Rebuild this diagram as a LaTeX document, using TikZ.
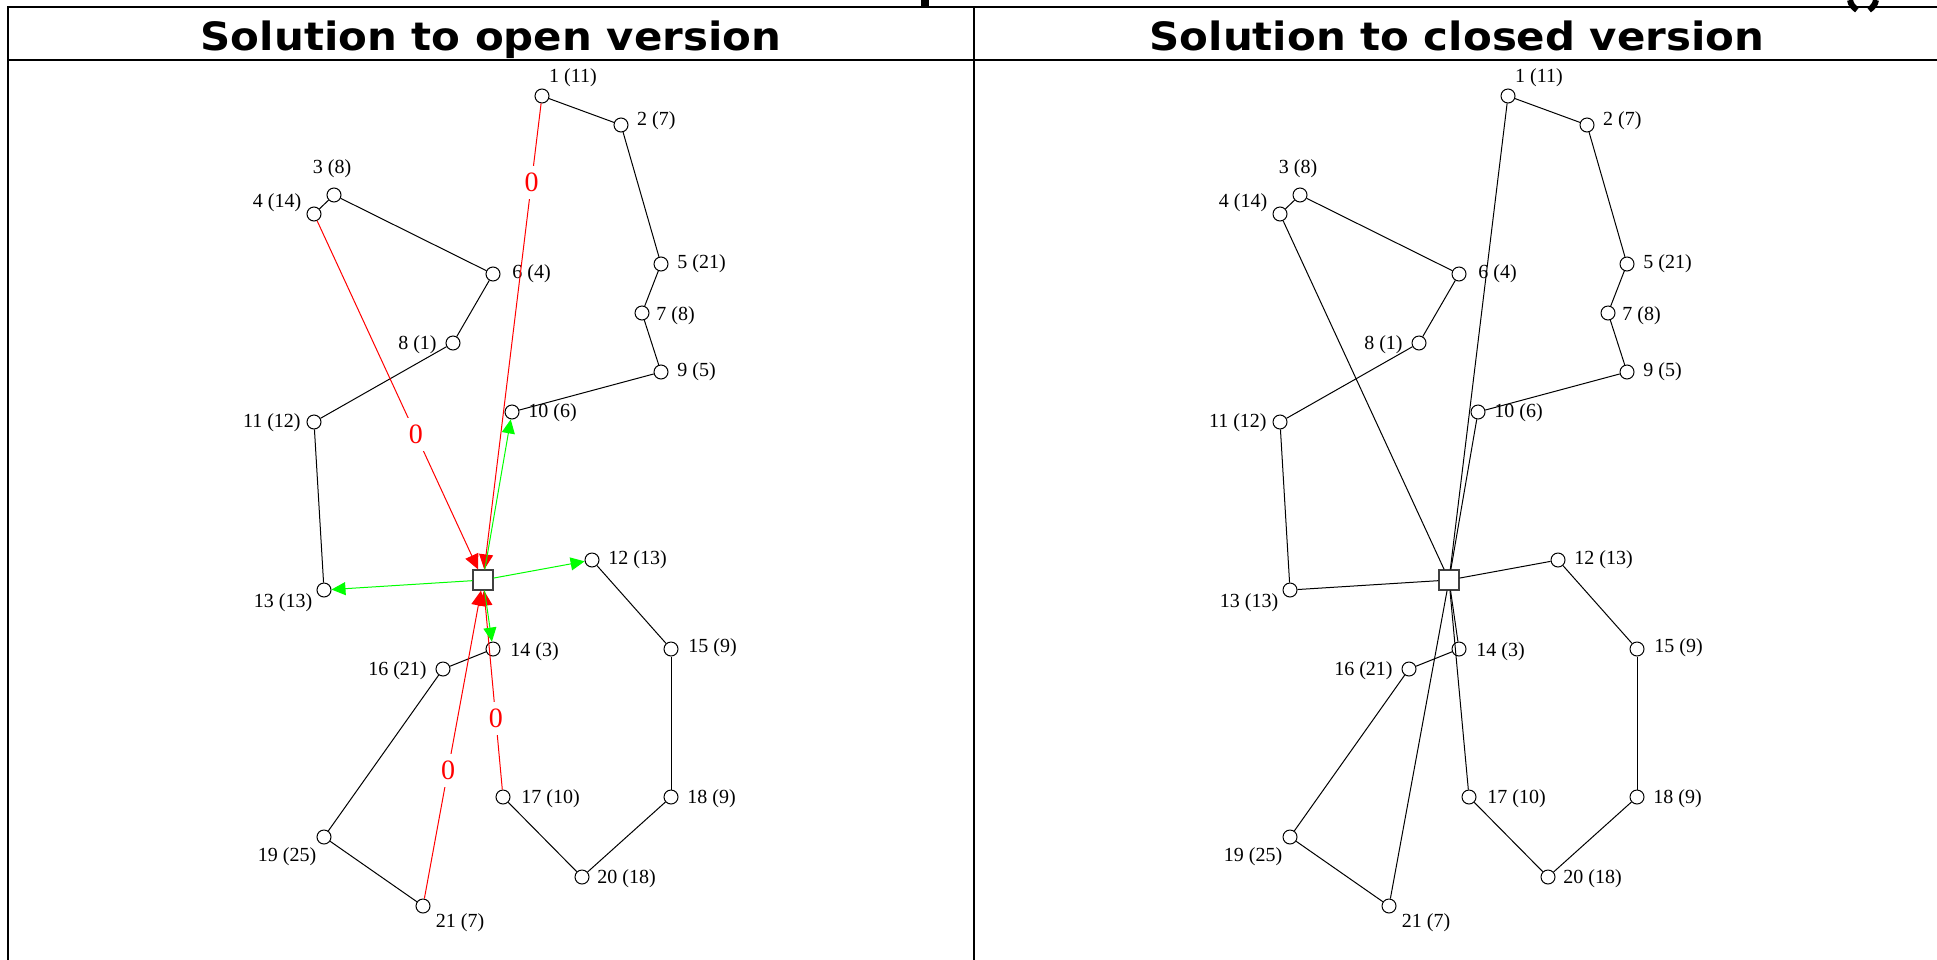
\documentclass[tikz,border=0pt]{standalone}
\usepackage{fontspec}
\setmainfont{Liberation Serif}
\newfontfamily\titlefont{DejaVu Sans}
\usetikzlibrary{arrows.meta}
\definecolor{pathred}{RGB}{255,0,0}
\definecolor{pathgreen}{RGB}{0,255,0}
\tikzset{
  cust/.style={circle, draw=black, fill=white, minimum size=7pt, inner sep=0pt, line width=0.5pt},
  depot/.style={rectangle, draw=black!75, fill=white, minimum size=10pt, inner sep=0pt, line width=0.6pt},
  lbl/.style={inner sep=0pt, font=\fontsize{10}{12}\selectfont},
  edge/.style={draw=black, line width=0.5pt},
  inarc/.style={draw=pathred, line width=0.5pt, -{Triangle[length=7.5pt,width=7pt]}},
  outarc/.style={draw=pathgreen, line width=0.5pt, -{Triangle[length=7pt,width=6.5pt]}},
  zero/.style={text=pathred, fill=white, inner sep=3.5pt, font=\fontsize{14}{16}\selectfont},
  frame/.style={line width=1pt, line cap=rect},
  heading/.style={font=\titlefont\bfseries\fontsize{19.5}{24}\selectfont, anchor=base, inner sep=0pt}
}
% customers, depot and their labels; #1 = name prefix
\newcommand\tourpoints[1]{%
  \node[depot] (#1d) at (483,580) {};
  \foreach \n/\x/\y in {1/542/96, 2/621/125, 3/334/195, 4/314/214, 5/661/264,
      6/493/274, 7/642/313, 8/453/343, 9/661/372, 10/512/412, 11/314/422,
      12/592/560, 13/324/590, 14/493/649, 15/671/649, 16/443/669, 17/503/797,
      18/671/797, 19/324/837, 20/582/877, 21/423/906}
    \node[cust] (#1\n) at (\x,\y) {};
  \foreach \n/\w/\x/\y/\an in {1/11/573/78/center, 2/7/636.7/121/west,
      3/8/332/169/center, 4/14/301.7/203/east, 5/21/677/264/west,
      6/4/512/274/west, 7/8/656/316/west, 8/1/437/345/east, 9/5/677/372/west,
      10/6/528/413/west, 11/12/301/423/east, 12/13/608/560/west,
      13/13/283/603/center, 14/3/510/652/west, 15/9/688/648/west,
      16/21/427/671/east, 17/10/521/799/west, 18/9/687/799/west,
      19/25/287/857/center, 20/18/597/879/west, 21/7/460/923/center}
    \node[lbl, anchor=\an] (#1t\n) at (\x,\y) {\n{} (\w)};
  \foreach \a/\b in {1/2, 2/5, 5/7, 7/9, 9/10, 3/4, 3/6, 6/8, 8/11, 11/13,
      12/15, 15/18, 18/20, 20/17, 14/16, 16/19, 19/21}
    \draw[edge] (#1\a) -- (#1\b);
}
\begin{document}
\begin{tikzpicture}[x=0.5pt, y=-0.5pt]
  \useasboundingbox (0,0) rectangle (1937,959);
  % table frame
  \draw[frame] (8,959) -- (8,7) -- (1937,7);
  \draw[frame] (8,60) -- (1937,60);
  \draw[frame] (974,7) -- (974,959);
  % descenders of the caption above the table
  \fill (921,0) rectangle (929,6);
  \draw[line width=3pt] (1850,0) .. controls (1851,5) and (1853,7) .. (1857,10);
  \draw[line width=3pt] (1876,0) .. controls (1875,5) and (1873,7) .. (1869,10);
  % column headings
  \node[heading] (headL) at (491,50) {\scalebox{1.075}[1]{Solution to open version}};
  \node[heading] (headR) at (1457,50) {\scalebox{1.075}[1]{Solution to closed version}};

  % open version
  \tourpoints{L}
  \draw[inarc] (L1) -- node[zero, pos=0.169] {0} (Ld);
  \draw[inarc] (L4) -- node[zero, pos=0.613] {0} (Ld);
  \draw[inarc] (L21) -- node[zero, pos=0.417] {0} (Ld);
  \draw[inarc] (L17) -- node[zero, pos=0.358] {0} (Ld);
  \foreach \t in {10, 12, 13, 14}
    \draw[outarc] (Ld) -- (L\t);

  % closed version
  \begin{scope}[shift={(966,0)}]
    \tourpoints{R}
    \foreach \t in {1, 4, 10, 12, 13, 14, 17, 21}
      \draw[edge] (Rd) -- (R\t);
  \end{scope}
\end{tikzpicture}
\end{document}
